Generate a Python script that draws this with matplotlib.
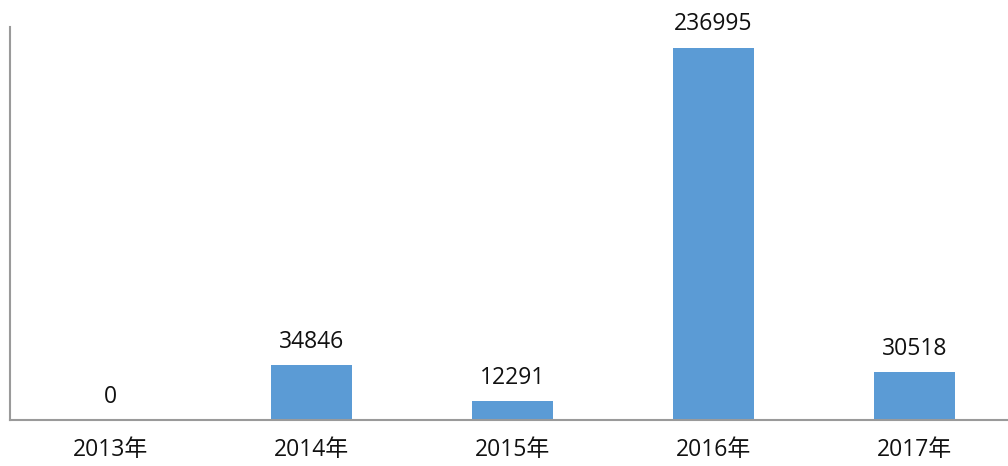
import matplotlib.pyplot as plt

plt.rcParams['font.family'] = ['Open Sans', 'Noto Sans CJK SC', 'DejaVu Sans']

years = ['2013年', '2014年', '2015年', '2016年', '2017年']
values = [0, 34846, 12291, 236995, 30518]

fig = plt.figure(figsize=(10.08, 4.66), dpi=100)
ax = fig.add_axes([0.0099, 0.0987, 0.997, 0.843])

x = range(len(years))
bars = ax.bar(x, values, width=0.4, color='#5b9bd5')

for xi, v in zip(x, values):
    ax.annotate(str(v), (xi, v), xytext=(0, 8), textcoords='offset points',
                ha='center', va='bottom', fontsize=16.5, color='#111111')

ax.set_xlim(-0.5, 4.5)
ax.set_ylim(0, 250000)
ax.set_xticks(list(x))
ax.set_xticklabels(years, fontsize=16.5, color='#111111')
ax.set_yticks([])
ax.tick_params(axis='x', length=0, pad=13)

for s in ['top', 'right']:
    ax.spines[s].set_visible(False)
for s in ['left', 'bottom']:
    ax.spines[s].set_color('#9a9a9a')
    ax.spines[s].set_linewidth(1.5)

fig.savefig('out.png', dpi=100)
